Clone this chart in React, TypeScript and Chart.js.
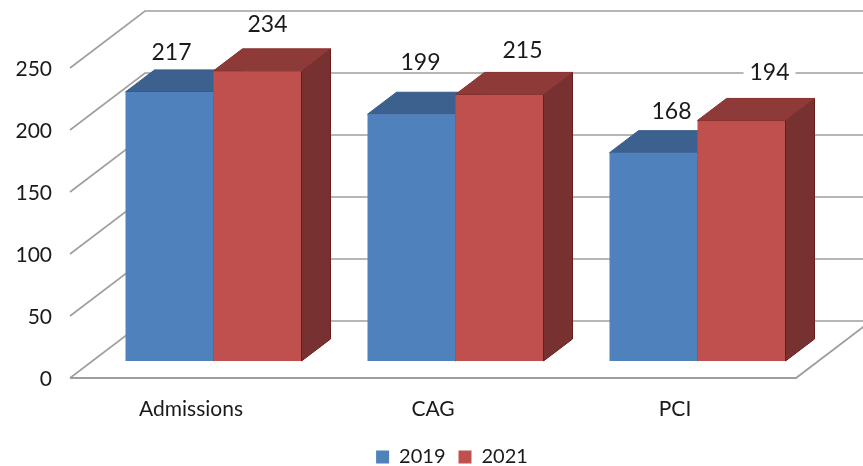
import React, { useEffect, useRef } from "react";
import { Chart, registerables } from "chart.js";

Chart.register(...registerables);

const categories = ["Admissions", "CAG", "PCI"];
const series2019 = [217, 199, 168];
const series2021 = [234, 215, 194];
const yMax = 250;
const yStep = 50;

// manual data-label offsets from each bar's top centre
const labelOffsets2019 = [[2, -39], [9, -52], [18, -41]];
const labelOffsets2021 = [[10, -46], [23, -44], [28, -48]];
const labelBackdrop2021 = [false, false, true];

const FONT = "Lato, Carlito, sans-serif";
const TEXT = "#1a1a1a";
const GRID = "#9e9e9e";

const WALL_DX = 75;
const WALL_DY = 57;
const BAR_SHIFT_X = 22.5;
const BAR_SHIFT_Y = -17;
const BAR_DX = 29;
const BAR_DY = 22;

const styles = [
  { front: "#4f81bd", top: "#3c618f", topEdge: "#36598a", side: "#335478", sideEdge: "#2c4a70" },
  { front: "#c0504d", top: "#8e3a38", topEdge: "#86302e", side: "#763130", sideEdge: "#6a1c1a" },
];

function poly(ctx: CanvasRenderingContext2D, pts: number[][], fill: string, stroke: string) {
  ctx.beginPath();
  pts.forEach(([x, y], i) => (i ? ctx.lineTo(x, y) : ctx.moveTo(x, y)));
  ctx.closePath();
  ctx.fillStyle = fill;
  ctx.fill();
  ctx.strokeStyle = stroke;
  ctx.lineWidth = 1;
  ctx.stroke();
}

function drawFaces(chart: any, datasetIndex: number, withSide: boolean) {
  const ctx = chart.ctx as CanvasRenderingContext2D;
  const s = styles[datasetIndex];
  chart.getDatasetMeta(datasetIndex).data.forEach((bar: any) => {
    const l = bar.x - bar.width / 2;
    const r = bar.x + bar.width / 2;
    const t = bar.y;
    const b = bar.base;
    if (withSide) {
      poly(ctx, [[r, t], [r + BAR_DX, t - BAR_DY], [r + BAR_DX, b - BAR_DY], [r, b]], s.side, s.sideEdge);
    }
    poly(ctx, [[l, t], [l + BAR_DX, t - BAR_DY], [r + BAR_DX, t - BAR_DY], [r, t]], s.top, s.topEdge);
  });
}

const scene3d = {
  id: "scene3d",
  afterLayout(chart: any) {
    const legend = chart.legend;
    legend.left += 54;
    legend.right += 54;
    const shift = 466 - legend.bottom;
    legend.top += shift + 11;
    legend.bottom += shift + 11;
  },
  beforeDatasetsDraw(chart: any) {
    const ctx = chart.ctx as CanvasRenderingContext2D;
    const { x, y } = chart.scales;
    const x0 = x.left;
    const x1 = x.right;
    ctx.save();
    ctx.lineCap = "butt";
    for (const tick of y.ticks) {
      const py = y.getPixelForValue(tick.value);
      ctx.beginPath();
      ctx.moveTo(x0, py);
      ctx.lineTo(x0 + WALL_DX, py - WALL_DY);
      ctx.lineTo(x1 + WALL_DX, py - WALL_DY);
      ctx.strokeStyle = GRID;
      ctx.lineWidth = 1.6;
      ctx.stroke();
    }
    const py0 = y.getPixelForValue(0);
    ctx.beginPath();
    ctx.moveTo(x0, py0);
    ctx.lineTo(x1, py0);
    ctx.lineTo(x1 + WALL_DX, py0 - WALL_DY);
    ctx.strokeStyle = GRID;
    ctx.lineWidth = 1.8;
    ctx.stroke();
    ctx.restore();

    ctx.save();
    ctx.translate(BAR_SHIFT_X, BAR_SHIFT_Y);
    drawFaces(chart, 0, true);
  },
  afterDatasetsDraw(chart: any) {
    const ctx = chart.ctx as CanvasRenderingContext2D;
    drawFaces(chart, 1, true);
    ctx.restore();

    ctx.save();
    ctx.font = `23px ${FONT}`;
    ctx.textAlign = "center";
    ctx.textBaseline = "middle";
    const offs = [labelOffsets2019, labelOffsets2021];
    [series2019, series2021].forEach((vals, d) => {
      chart.getDatasetMeta(d).data.forEach((bar: any, i: number) => {
        const lx = bar.x + BAR_SHIFT_X + offs[d][i][0];
        const ly = bar.y + BAR_SHIFT_Y + offs[d][i][1];
        if (d === 1 && labelBackdrop2021[i]) {
          ctx.fillStyle = "#ffffff";
          ctx.fillRect(lx - 26, ly - 13, 52, 26);
        }
        ctx.fillStyle = TEXT;
        ctx.fillText(String(vals[i]), lx, ly);
      });
    });
    ctx.restore();
  },
};

export default function App() {
  const ref = useRef<HTMLCanvasElement>(null);
  useEffect(() => {
    if (!ref.current) return;
    const chart = new Chart(ref.current, {
      type: "bar",
      data: {
        labels: categories,
        datasets: [
          { label: "2019", data: series2019, backgroundColor: styles[0].front, clip: false as any },
          { label: "2021", data: series2021, backgroundColor: styles[1].front, clip: false as any },
        ],
      },
      options: {
        responsive: false,
        animation: false,
        devicePixelRatio: 1,
        layout: { padding: { top: 68, right: 67, left: 0, bottom: 0 } },
        datasets: { bar: { categoryPercentage: 176 / 242, barPercentage: 1 } },
        scales: {
          x: {
            grid: { display: false },
            border: { display: false },
            ticks: { color: TEXT, font: { family: FONT, size: 21 }, padding: 11, maxRotation: 0 },
            afterFit: (s: any) => {
              s.height = 88 - (s.chart.legend?.height ?? 0);
            },
          },
          y: {
            min: 0,
            max: yMax,
            grid: { display: false },
            border: { display: false },
            ticks: { stepSize: yStep, color: TEXT, font: { family: FONT, size: 21 }, padding: 10, labelOffset: 1 },
            afterFit: (s: any) => {
              s.width = 70;
            },
          },
        },
        plugins: {
          tooltip: { enabled: false },
          legend: {
            position: "bottom",
            labels: {
              color: TEXT,
              font: { family: FONT, size: 20 },
              boxWidth: 13,
              boxHeight: 13,
              padding: 13,
            },
          },
        },
      },
      plugins: [scene3d],
    } as any);
    return () => chart.destroy();
  }, []);
  return (
    <div style={{ position: "fixed", left: 0, top: 0, width: 863, height: 466, background: "#fff" }}>
      <canvas ref={ref} width={863} height={466} style={{ display: "block" }} />
    </div>
  );
}
